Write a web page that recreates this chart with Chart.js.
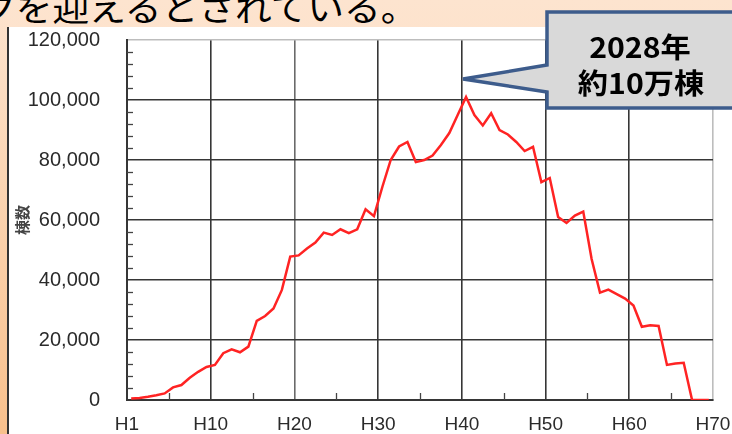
<!DOCTYPE html>
<html><head><meta charset="utf-8">
<script src="https://cdn.jsdelivr.net/npm/chart.js@4"></script>
<style>
html,body{margin:0;padding:0;width:732px;height:434px;overflow:hidden;}
body{position:relative;background:linear-gradient(#FDE4CF,#FBD3B2);}
#leftStrip{position:absolute;left:0;top:0;width:8px;height:434px;background:linear-gradient(#FDE4CF,#F8C08C);}
#whiteBox{position:absolute;left:7px;top:27px;right:0;bottom:0;background:#fff;border-left:2px solid #333;}
#title{position:absolute;left:-21px;top:-10px;font:34px/34px "Noto Sans CJK JP";color:#000;white-space:nowrap;transform:scaleX(1.08);transform-origin:0 0;}
#wrap{position:absolute;left:0;top:0;width:732px;height:434px;}
#wrap canvas{display:block;}
#callout{position:absolute;left:0;top:0;}
.ct{position:absolute;font:bold 28px/1 "Noto Sans CJK JP";color:#000;white-space:nowrap;transform:translate(-50%,-50%) scaleX(1.08);}
</style>
</head>
<body>
<div id="leftStrip"></div>
<div id="whiteBox"></div>
<div id="title">クを迎えるとされている。</div>
<div id="wrap"><canvas id="c"></canvas></div>
<svg id="callout" width="732" height="434"><path d="M547,12 H745 V108 H547 V92 L463,79 L547,65 Z" fill="#D9D9D9" stroke="#3D5C8C" stroke-width="3.5"/></svg>
<div class="ct" style="left:640px;top:46px;">2028年</div>
<div class="ct" style="left:641px;top:82px;">約10万棟</div>
<script>
// Heisei year (H1 .. H70)
const years = [1,2,3,4,5,6,7,8,9,10,11,12,13,14,15,16,17,18,19,20,
  21,22,23,24,25,26,27,28,29,30,31,32,33,34,35,36,37,38,39,40,
  41,42,43,44,45,46,47,48,49,50,51,52,53,54,55,56,57,58,59,60,
  61,62,63,64,65,66,67,68,69,70];
// number of buildings (棟数)
const buildings = [500,700,1100,1600,2200,4200,5000,7400,9400,11000,
  11700,15600,16900,15900,17800,26400,28000,30500,36700,47800,
  48200,50500,52500,55800,55000,56900,55600,56900,63600,61300,
  71000,80000,84500,86000,79300,80000,81500,85000,89000,95000,
  101000,95000,91500,95600,90000,88500,86000,83000,84400,72600,
  74000,61000,59000,61500,62800,47000,35800,36800,35300,33800,
  31500,24400,24900,24700,11700,12200,12400,0,0,0];
const xTickLabels = ['H1','H10','H20','H30','H40','H50','H60','H70'];
const yAxisTitle = '棟数';

const points = years.map((yr, i) => ({x: yr - 0.5, y: buildings[i]}));

const minorTicks = {
  id: 'minorTicks',
  beforeDatasetsDraw(chart) {
    const {ctx, chartArea, scales: {x, y}} = chart;
    ctx.save();
    ctx.strokeStyle = '#444';
    ctx.lineWidth = 1.3;
    for (let v = 0; v <= 120000; v += 4000) {
      if (v % 20000 === 0) continue;
      const py = Math.round(y.getPixelForValue(v)) + 0.5;
      ctx.beginPath(); ctx.moveTo(chartArea.left, py); ctx.lineTo(chartArea.left + 6, py); ctx.stroke();
    }
    for (let v = 5; v < 70; v += 10) {
      const px = Math.round(x.getPixelForValue(v)) + 0.5;
      ctx.beginPath(); ctx.moveTo(px, chartArea.bottom); ctx.lineTo(px, chartArea.bottom - 7); ctx.stroke();
    }
    ctx.restore();
  }
};

new Chart(document.getElementById('c'), {
  type: 'line',
  data: {
    datasets: [{
      data: points,
      borderColor: 'rgb(255,35,35)',
      borderWidth: 2.5,
      pointRadius: 0,
      tension: 0,
      fill: false
    }]
  },
  options: {
    responsive: true,
    maintainAspectRatio: false,
    animation: false,
    events: [],
    layout: {padding: {left: 0, right: 19, top: 40, bottom: 0}},
    plugins: {legend: {display: false}, tooltip: {enabled: false}},
    scales: {
      x: {
        type: 'linear', min: 0, max: 70,
        afterFit(s) { s.height = 34; s.paddingLeft = 0; s.paddingRight = 0; },
        ticks: {
          stepSize: 10, autoSkip: false, maxRotation: 0, padding: 13,
          color: '#2a2a2a', font: {family: 'Liberation Sans', size: 19},
          callback: (v) => xTickLabels[v / 10]
        },
        grid: {
          drawTicks: false, lineWidth: 1.6,
          color: (c) => c.tick && c.tick.value === 70 ? '#bdbdbd' : (c.tick && c.tick.value === 20 ? '#6a6a6a' : '#363636')
        },
        border: {color: '#363636', width: 2}
      },
      y: {
        min: 0, max: 120000,
        afterFit(s) { s.width = 127; s.paddingTop = 0; s.paddingBottom = 0; },
        ticks: {
          stepSize: 20000, padding: 27,
          color: '#2a2a2a', font: {family: 'Liberation Sans', size: 20},
          callback: (v) => v.toLocaleString('en-US')
        },
        grid: {
          drawTicks: false, lineWidth: 1.6,
          color: (c) => c.tick && c.tick.value === 120000 ? '#bdbdbd' : '#363636'
        },
        border: {color: '#363636', width: 2},
        title: {
          display: true, text: yAxisTitle, color: '#444',
          font: {family: 'Noto Sans CJK JP', size: 15, weight: 'bold'},
          padding: {top: 13, bottom: 0}
        }
      }
    }
  },
  plugins: [minorTicks]
});
</script>
</body></html>
